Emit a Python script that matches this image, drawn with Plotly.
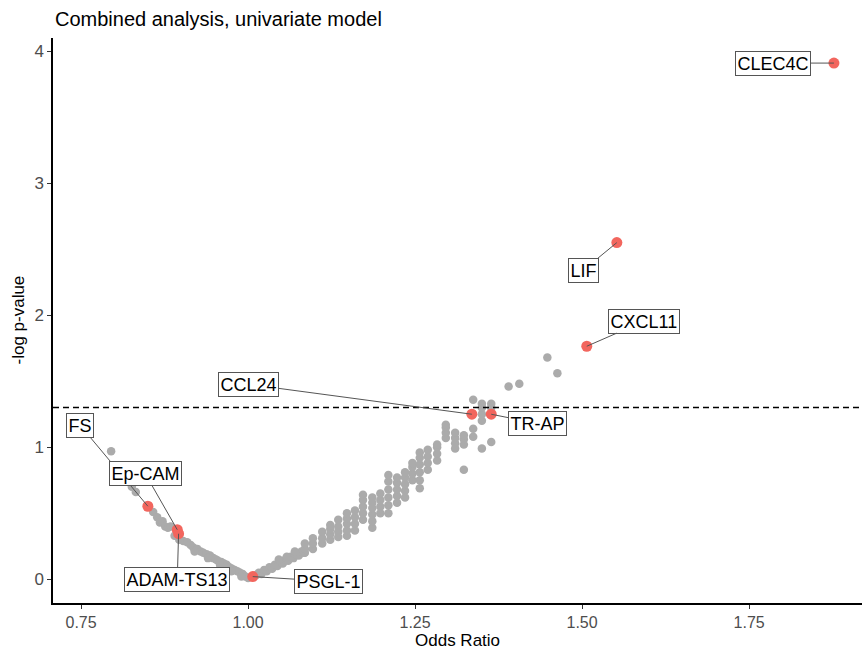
import plotly.graph_objects as go

# ---------------- data ----------------
title_text = "Combined analysis, univariate model"
x_title = "Odds Ratio"
y_title = "-log p-value"
x_tick_vals = [0.75, 1.00, 1.25, 1.50, 1.75]
x_tick_text = ["0.75", "1.00", "1.25", "1.50", "1.75"]
y_tick_vals = [0, 1, 2, 3, 4]
threshold = 1.301

# highlighted proteins
genes = ["CLEC4C", "LIF", "CXCL11", "CCL24", "TR-AP", "FS", "Ep-CAM", "ADAM-TS13", "PSGL-1"]
genes_or = [1.877, 1.552, 1.507, 1.335, 1.364, 0.850, 0.894, 0.896, 1.007]
genes_logp = [3.91, 2.55, 1.765, 1.25, 1.25, 0.553, 0.375, 0.345, 0.02]

# other proteins (odds ratio, -log p)
gray_points = [
    (0.795, 0.97), (0.826, 0.70), (0.832, 0.66),
    (0.858, 0.51), (0.864, 0.47), (0.868, 0.43), (0.872, 0.44), (0.876, 0.40),
    (0.880, 0.39), (0.884, 0.40), (0.890, 0.33), (0.897, 0.30), (0.903, 0.29),
    (0.909, 0.28), (0.914, 0.26), (0.918, 0.24), (0.924, 0.23), (0.929, 0.21),
    (0.933, 0.20), (0.938, 0.19), (0.943, 0.18), (0.948, 0.16), (0.952, 0.15),
    (0.955, 0.14), (0.960, 0.13), (0.964, 0.12), (0.968, 0.11), (0.972, 0.09),
    (0.976, 0.08), (0.980, 0.07), (0.984, 0.06), (0.988, 0.05), (0.992, 0.04),
    (0.996, 0.02), (1.000, 0.01), (0.920, 0.21), (0.940, 0.16), (0.958, 0.11),
    (0.975, 0.06), (0.990, 0.02),
    (1.012, 0.03), (1.016, 0.05), (1.020, 0.04), (1.024, 0.07), (1.028, 0.06),
    (1.032, 0.09), (1.036, 0.08), (1.040, 0.11), (1.044, 0.10), (1.048, 0.13),
    (1.052, 0.12), (1.056, 0.15), (1.060, 0.14), (1.064, 0.17), (1.068, 0.16),
    (1.072, 0.19), (1.076, 0.18), (1.080, 0.21), (1.084, 0.20), (1.070, 0.21),
    (1.058, 0.17), (1.046, 0.15),
    (1.085, 0.20), (1.085, 0.23), (1.085, 0.27),
    (1.097, 0.23), (1.097, 0.27), (1.097, 0.31),
    (1.111, 0.27), (1.111, 0.31), (1.111, 0.36),
    (1.123, 0.30), (1.123, 0.34), (1.123, 0.38), (1.123, 0.41),
    (1.135, 0.32), (1.135, 0.36), (1.135, 0.40), (1.135, 0.45),
    (1.148, 0.33), (1.148, 0.37), (1.148, 0.42), (1.148, 0.46), (1.148, 0.50),
    (1.160, 0.37), (1.160, 0.42), (1.160, 0.47), (1.160, 0.52),
    (1.172, 0.45), (1.172, 0.50), (1.172, 0.55), (1.172, 0.60), (1.172, 0.64),
    (1.186, 0.39), (1.186, 0.44), (1.186, 0.49), (1.186, 0.54), (1.186, 0.58), (1.186, 0.62),
    (1.198, 0.50), (1.198, 0.55), (1.198, 0.60), (1.198, 0.65),
    (1.210, 0.50), (1.210, 0.56), (1.210, 0.62), (1.210, 0.68), (1.210, 0.74), (1.210, 0.79),
    (1.223, 0.58), (1.223, 0.63), (1.223, 0.68), (1.223, 0.73), (1.223, 0.77),
    (1.235, 0.62), (1.235, 0.67), (1.235, 0.72), (1.235, 0.77), (1.235, 0.81),
    (1.246, 0.75), (1.246, 0.80), (1.246, 0.85), (1.246, 0.88),
    (1.257, 0.69), (1.257, 0.75), (1.257, 0.81), (1.257, 0.87), (1.257, 0.92), (1.257, 0.96),
    (1.269, 0.83), (1.269, 0.88), (1.269, 0.93), (1.269, 0.98),
    (1.283, 0.90), (1.283, 0.95), (1.283, 1.00), (1.283, 1.02),
    (1.296, 1.07), (1.296, 1.11), (1.296, 1.15), (1.296, 1.17),
    (1.310, 0.99), (1.310, 1.03), (1.310, 1.07), (1.310, 1.11),
    (1.323, 1.02), (1.323, 1.06), (1.323, 1.09), (1.323, 0.83),
    (1.337, 1.08), (1.337, 1.14), (1.337, 1.36),
    (1.350, 1.20), (1.350, 1.25), (1.350, 1.30), (1.350, 1.33), (1.350, 0.99),
    (1.364, 1.30), (1.364, 1.33), (1.364, 1.04),
    (1.390, 1.46), (1.406, 1.48), (1.448, 1.68), (1.463, 1.56),
]
gray_or = [p[0] for p in gray_points]
gray_logp = [p[1] for p in gray_points]

# label box centres (data coordinates, as placed by the repel layout)
label_or = [1.786, 1.5015, 1.593, 1.000, 1.4326, 0.7485, 0.846, 0.894, 1.12]
label_logp = [3.91, 2.34, 1.955, 1.477, 1.18, 1.167, 0.80, 0.0, -0.015]

# ---------------- figure ----------------
FONT = "Liberation Sans, Arial, sans-serif"
fig = go.Figure()
fig.add_trace(go.Scatter(
    x=gray_or, y=gray_logp, mode="markers",
    marker=dict(size=8.5, color="#ABABAB"), hoverinfo="skip", showlegend=False))
fig.add_trace(go.Scatter(
    x=genes_or, y=genes_logp, mode="markers", text=genes,
    marker=dict(size=11, color="#F2665E"), showlegend=False))

fig.add_shape(type="line", xref="paper", x0=0, x1=1, yref="y", y0=threshold, y1=threshold,
              line=dict(color="black", width=1.5, dash="6px,4px"))

annotations = []
for g, xo, yo, lx, ly in zip(genes, genes_or, genes_logp, label_or, label_logp):
    annotations.append(dict(
        x=xo, y=yo, xref="x", yref="y", ax=lx, ay=ly, axref="x", ayref="y",
        text=g, showarrow=True, arrowhead=0, arrowwidth=1, arrowcolor="#555555",
        standoff=0, startstandoff=0,
        font=dict(family=FONT, size=18, color="black"),
        bgcolor="white", bordercolor="#555555", borderwidth=1, borderpad=1.5))

annotations.append(dict(text=title_text, xref="paper", yref="paper", x=0, y=1,
                        xanchor="left", yanchor="middle", yshift=19, showarrow=False,
                        font=dict(family=FONT, size=20, color="black")))
annotations.append(dict(text=x_title, xref="paper", yref="paper", x=0.5, y=0,
                        xanchor="center", yanchor="middle", yshift=-37, showarrow=False,
                        font=dict(family=FONT, size=17, color="black")))
annotations.append(dict(text=y_title, xref="paper", yref="paper", x=0, y=0.5,
                        xanchor="center", yanchor="middle", xshift=-35, textangle=-90,
                        showarrow=False, font=dict(family=FONT, size=17, color="black")))

fig.update_layout(
    width=864, height=654,
    margin=dict(l=53, r=2, t=38, b=51, autoexpand=False),
    paper_bgcolor="white", plot_bgcolor="white",
    font=dict(family=FONT),
    annotations=annotations,
    showlegend=False,
)
fig.update_xaxes(range=[0.708, 1.919], tickvals=x_tick_vals, ticktext=x_tick_text,
                 automargin=False,
                 showgrid=False, zeroline=False, showline=True, linecolor="black", linewidth=1.5,
                 ticks="outside", ticklen=4, tickcolor="#333333", tickwidth=1,
                 tickfont=dict(family=FONT, size=16, color="#4D4D4D"))
fig.update_yaxes(range=[-0.18, 4.10], tickvals=y_tick_vals, automargin=False,
                 showgrid=False, zeroline=False, showline=True, linecolor="black", linewidth=1.5,
                 ticks="outside", ticklen=4, tickcolor="#333333", tickwidth=1,
                 tickfont=dict(family=FONT, size=17, color="#4D4D4D"))

fig.write_html("out.html", config={"displayModeBar": False},
               post_script="document.body.style.margin='0px';")
